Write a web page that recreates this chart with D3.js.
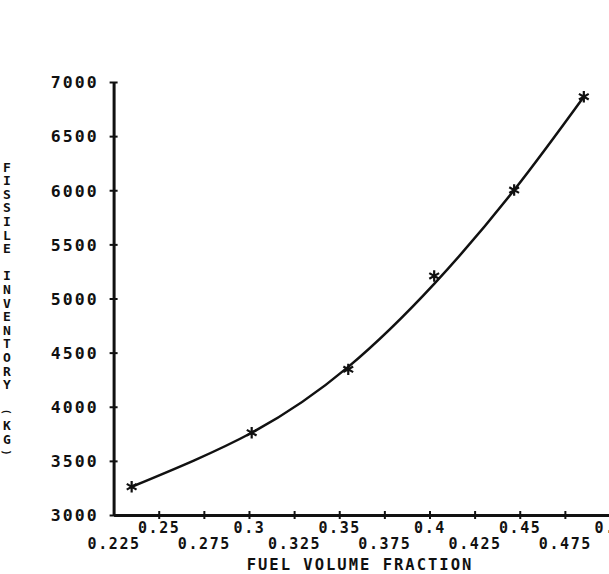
<!DOCTYPE html>
<html>
<head>
<meta charset="utf-8">
<script src="https://cdn.jsdelivr.net/npm/d3@7"></script>
<style>
  html, body { margin: 0; padding: 0; background: #fff; }
  #chart { width: 609px; height: 574px; overflow: hidden; }
  text { font-family: "DejaVu Sans Mono", monospace; fill: #111; }
</style>
</head>
<body>
<div id="chart"></div>
<script>
// Data
const fuelFraction = [0.235, 0.3015, 0.355, 0.4026, 0.4469, 0.4855];
const inventory = [3261, 3760, 4346, 5208, 6002, 6864];
// smooth fitted curve (at the same x positions)
const fitInventory = [3261, 3760, 4368, 5135, 6002, 6864];

const xTicks = [0.225, 0.25, 0.275, 0.3, 0.325, 0.35, 0.375, 0.4, 0.425, 0.45, 0.475, 0.5];
const xTickLabels = ['0.225', '0.25', '0.275', '0.3', '0.325', '0.35', '0.375', '0.4', '0.425', '0.45', '0.475', '0.5'];
const yTicks = [3000, 3500, 4000, 4500, 5000, 5500, 6000, 6500, 7000];
const yTitle = 'FISSILE INVENTORY (KG)';
const xTitle = 'FUEL VOLUME FRACTION';

const width = 609, height = 574;
const svg = d3.select('#chart').append('svg')
  .attr('width', width)
  .attr('height', height);

const x = d3.scaleLinear().domain([0.225, 0.5]).range([113.6, 610]);
const y = d3.scaleLinear().domain([3000, 7000]).range([515, 82]);

// y axis
const yAxis = svg.append('g')
  .attr('transform', `translate(${x(0.225)},0)`)
  .call(d3.axisLeft(y).tickValues(yTicks).tickSize(0).tickPadding(15)
    .tickFormat(d3.format('d')));
yAxis.select('.domain').attr('stroke', '#111').attr('stroke-width', 3);
yAxis.selectAll('.tick line').attr('x1', -4).attr('x2', 4)
  .attr('stroke', '#111').attr('stroke-width', 2);
yAxis.selectAll('.tick text')
  .attr('fill', '#111')
  .style('font-family', '"DejaVu Sans Mono", monospace')
  .style('font-size', '16.5px')
  .style('font-weight', 'bold')
  .style('letter-spacing', '2px')
  .attr('dy', '0.35em');

// x axis
const xAxis = svg.append('g')
  .attr('transform', `translate(0,${y(3000)})`)
  .call(d3.axisBottom(x).tickValues(xTicks).tickSize(0)
    .tickFormat((d, i) => xTickLabels[i]));
xAxis.select('.domain').attr('stroke', '#111').attr('stroke-width', 3);
xAxis.selectAll('.tick line').attr('y1', -4).attr('y2', 4)
  .attr('stroke', '#111').attr('stroke-width', 2);
xAxis.selectAll('.tick').filter((d, i) => i === 0).select('line').remove();
xAxis.selectAll('.tick text')
  .attr('fill', '#111')
  .style('font-family', '"DejaVu Sans Mono", monospace')
  .style('font-size', '15px')
  .style('font-weight', 'bold')
  .style('letter-spacing', '1.6px')
  .attr('y', (d, i) => i % 2 === 1 ? 18 : 34)
  .attr('dy', 0);

svg.append('text')
  .attr('x', 360)
  .attr('y', 570)
  .attr('text-anchor', 'middle')
  .style('font-size', '15.5px')
  .style('font-weight', 'bold')
  .style('letter-spacing', '2px')
  .text(xTitle);

// stacked y title
const yt = svg.append('g');
yTitle.split('').forEach((ch, i) => {
  const cy = 167 + i * 13.6;
  const isParen = ch === '(' || ch === ')';
  yt.append('text')
    .attr('text-anchor', 'middle')
    .attr('dy', '0.36em')
    .attr('transform', isParen ? `translate(7,${cy}) rotate(90)` : `translate(7,${cy})`)
    .style('font-size', isParen ? '10px' : '13px')
    .style('font-weight', 'bold')
    .text(ch);
});

// fitted curve
const pts = fuelFraction.map((f, i) => [f, fitInventory[i]]);
const line = d3.line()
  .x(d => x(d[0]))
  .y(d => y(d[1]))
  .curve(d3.curveNatural);
svg.append('path')
  .datum(pts)
  .attr('d', line)
  .attr('fill', 'none')
  .attr('stroke', '#111')
  .attr('stroke-width', 2.5);

// data markers
const star = d3.symbol().type(d3.symbolAsterisk).size(90);
svg.selectAll('path.pt')
  .data(fuelFraction)
  .join('path')
  .attr('class', 'pt')
  .attr('d', star)
  .attr('transform', (d, i) => `translate(${x(d)},${y(inventory[i])})`)
  .attr('fill', 'none')
  .attr('stroke', '#111')
  .attr('stroke-width', 2.2);
</script>
</body>
</html>
